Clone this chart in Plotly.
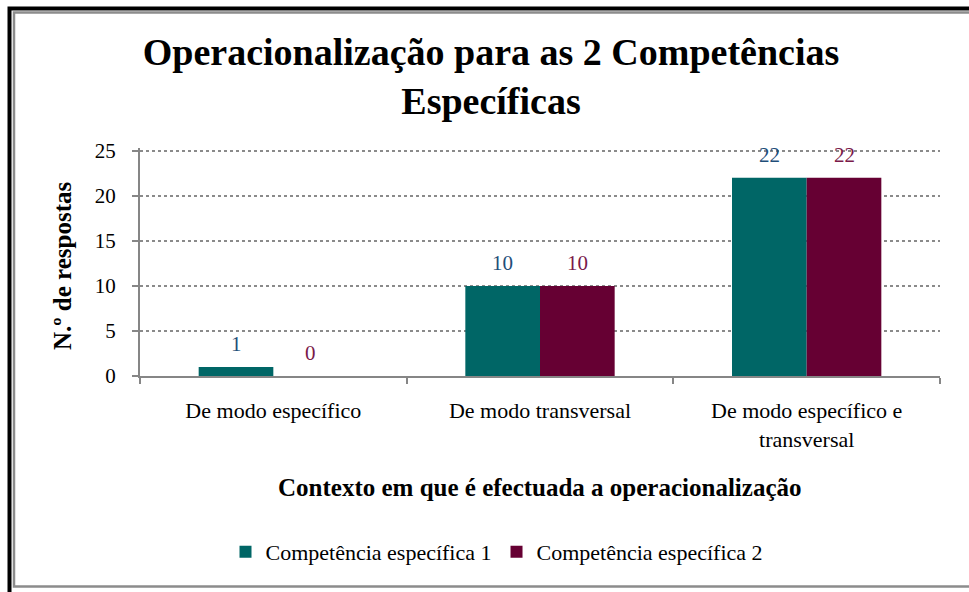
import plotly.graph_objects as go

categories = ["De modo específico", "De modo transversal", "De modo específico e<br>transversal"]
series_names = ["Competência específica 1", "Competência específica 2"]
values_1 = [1, 10, 22]
values_2 = [0, 10, 22]
bar_colors = ["#006666", "#660033"]
label_colors = ["#1f4e79", "#7a1a4a"]
y_ticks = [0, 5, 10, 15, 20, 25]

FONT = "Liberation Serif, Times New Roman, serif"

# plot area in pixels (for placing frame shapes / titles)
L, R, T, B = 140, 29, 148, 216
W, H = 969, 592
PW, PH = W - L - R, H - T - B
YMAX = 25.3

def px_x(px):
    return (px - L) / PW

def px_y(py):
    return (H - B - py) / PH

fig = go.Figure()
for name, vals, col in zip(series_names, [values_1, values_2], bar_colors):
    fig.add_trace(go.Bar(
        x=categories, y=vals, name=name,
        marker=dict(color=col, line=dict(width=0)),
    ))

annotations = []
bar_off = (1 - 0.44) / 4
for s, (vals, lc) in enumerate(zip([values_1, values_2], label_colors)):
    for i, v in enumerate(vals):
        annotations.append(dict(
            x=i + (-bar_off if s == 0 else bar_off), y=v, xref="x", yref="y",
            text=str(v), showarrow=False, yanchor="middle", yshift=23,
            font=dict(family=FONT, size=21, color=lc),
        ))

annotations.append(dict(
    text="<b>N.º de respostas</b>", textangle=-90, showarrow=False,
    xref="paper", yref="paper", x=px_x(62), y=px_y(266),
    xanchor="center", yanchor="middle",
    font=dict(family=FONT, size=25, color="black"),
))
annotations.append(dict(
    text="<b>Contexto em que é efectuada a operacionalização</b>", showarrow=False,
    xref="paper", yref="paper", x=px_x(540), y=px_y(487),
    xanchor="center", yanchor="middle",
    font=dict(family=FONT, size=25, color="black"),
))

shapes = [
    dict(type="rect", xref="paper", yref="paper",
         x0=px_x(9.5), x1=px_x(990), y0=px_y(610), y1=px_y(8.5),
         line=dict(color="black", width=4), fillcolor="rgba(0,0,0,0)", layer="above"),
    dict(type="rect", xref="paper", yref="paper",
         x0=px_x(14), x1=px_x(985), y0=px_y(586.5), y1=px_y(12.5),
         line=dict(color="#8c8c8c", width=2.5), fillcolor="rgba(0,0,0,0)", layer="above"),
]

fig.update_layout(
    width=W, height=H,
    margin=dict(l=L, r=R, t=T, b=B),
    paper_bgcolor="white", plot_bgcolor="white",
    barmode="group", bargap=0.44, bargroupgap=0,
    font=dict(family=FONT, size=21, color="black"),
    title=dict(
        text="<b>Operacionalização para as 2 Competências<br>Específicas</b>",
        x=491 / W, xref="container", xanchor="center",
        y=1 - 65 / H, yref="container", yanchor="middle",
        font=dict(family=FONT, size=38, color="black"),
    ),
    legend=dict(
        orientation="h", x=px_x(497), xanchor="center", y=px_y(552), yanchor="middle",
        font=dict(family=FONT, size=22, color="black"),
        itemwidth=30, traceorder="normal",
    ),
    annotations=annotations,
    shapes=shapes,
)

fig.update_xaxes(
    type="category", range=[-0.5, 2.5],
    showline=True, linecolor="#868686", linewidth=2,
    ticks="outside", tickson="boundaries", ticklen=6, tickcolor="#868686", tickwidth=2,
    ticklabelstandoff=14,
    tickfont=dict(family=FONT, size=22, color="black"),
    showgrid=False, zeroline=False,
)
fig.update_yaxes(
    range=[0, YMAX], tickvals=y_ticks,
    showline=True, linecolor="#868686", linewidth=2,
    ticks="outside", ticklen=6, tickcolor="#868686", tickwidth=2,
    ticklabelstandoff=12,
    tickfont=dict(family=FONT, size=21, color="black"),
    showgrid=True, gridcolor="#8a8a8a", griddash="dot", gridwidth=1.5,
    zeroline=False,
)

fig.write_html("out.html", config={"displayModeBar": False},
               post_script="document.body.style.margin='0';")
